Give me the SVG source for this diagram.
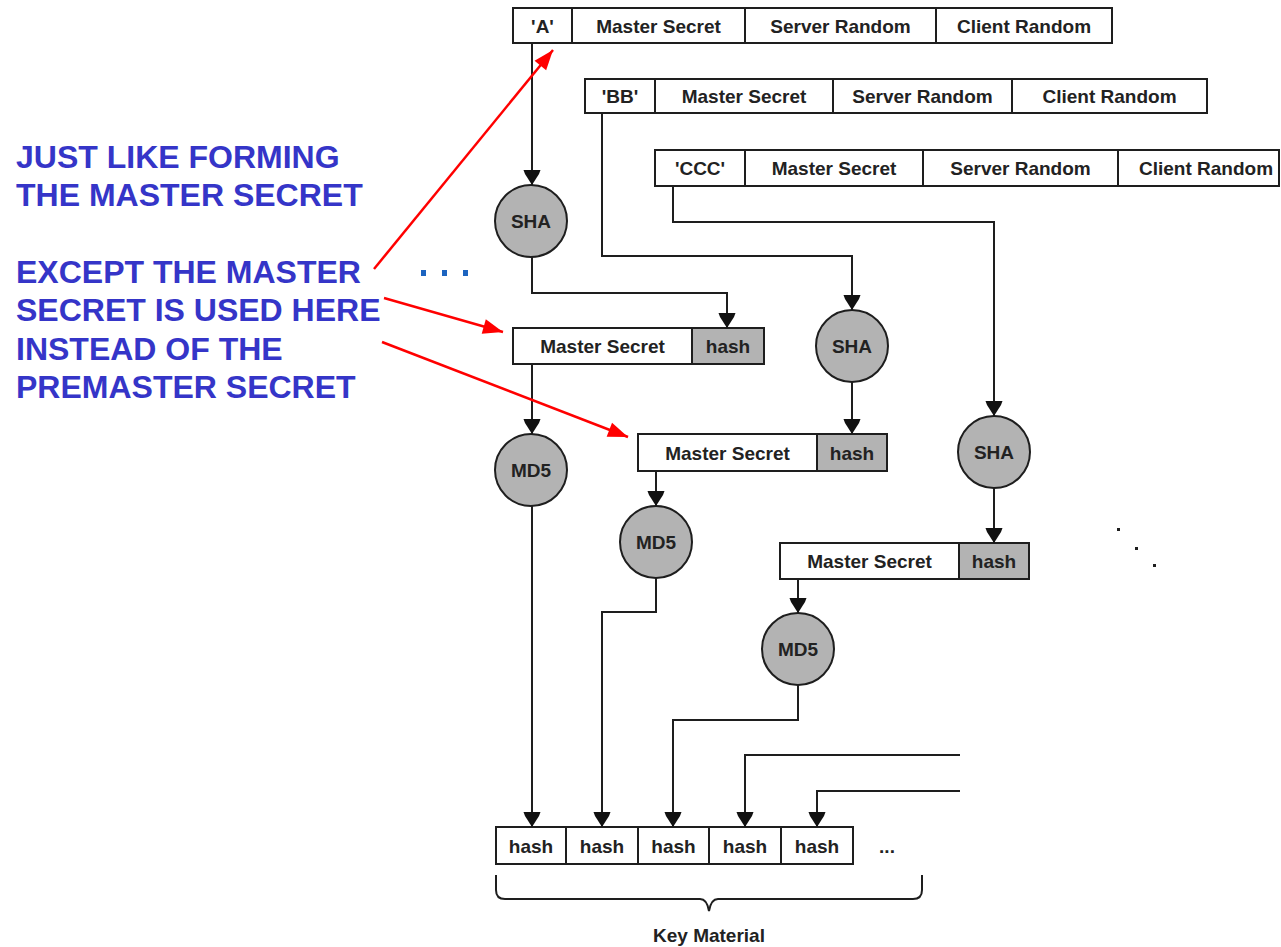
<svg xmlns="http://www.w3.org/2000/svg" width="1281" height="947" viewBox="0 0 1281 947">
  <style>
    .cell { fill: #ffffff; stroke: #1e1e1e; stroke-width: 2; }
    .gray { fill: #b3b3b3; stroke: #1e1e1e; stroke-width: 2; }
    .op { fill: #b3b3b3; stroke: #1e1e1e; stroke-width: 2; }
    .lbl { font-family: "Liberation Sans", Arial, sans-serif; font-weight: bold; font-size: 19px; fill: #222222; text-anchor: middle; }
    .note { font-family: "Liberation Sans", Arial, sans-serif; font-weight: bold; font-size: 32px; fill: #3535c8; }
    .wire { fill: none; stroke: #1e1e1e; stroke-width: 2; marker-end: url(#head); }
    .plain { fill: none; stroke: #1e1e1e; stroke-width: 2; }
    .pointer { fill: none; stroke: #ff0000; stroke-width: 2.5; marker-end: url(#redhead); }
  </style>
  <defs>
    <marker id="head" markerUnits="userSpaceOnUse" markerWidth="20" markerHeight="20" viewBox="-16 -10 20 20" refX="0" refY="0" orient="auto">
      <path d="M0,0 L-11,-7 L-15,-8.5 L-15,8.5 L-11,7 Z" fill="#111111"/>
    </marker>
    <marker id="redhead" markerUnits="userSpaceOnUse" markerWidth="26" markerHeight="26" viewBox="-22 -13 26 26" refX="0" refY="0" orient="auto">
      <path d="M0,0 L-20,-7.5 L-20,7.5 Z" fill="#ff0000"/>
    </marker>
  </defs>

  <rect width="1281" height="947" fill="#ffffff"/>

  <!-- annotation text -->
  <g id="note">
    <text class="note" x="16" y="168">JUST LIKE FORMING</text>
    <text class="note" x="16" y="206">THE MASTER SECRET</text>
    <text class="note" x="16" y="283">EXCEPT THE MASTER</text>
    <text class="note" x="16" y="321">SECRET IS USED HERE</text>
    <text class="note" x="16" y="360">INSTEAD OF THE</text>
    <text class="note" x="16" y="398">PREMASTER SECRET</text>
  </g>
  <g id="blue-dots" fill="#1c64c0">
    <rect x="421" y="270" width="5" height="6"/>
    <rect x="442" y="270" width="5" height="6"/>
    <rect x="463" y="270" width="5" height="6"/>
  </g>

  <!-- input rows -->
  <g id="row-a">
    <rect class="cell" x="513" y="8" width="59" height="35"/>
    <rect class="cell" x="572" y="8" width="173" height="35"/>
    <rect class="cell" x="745" y="8" width="191" height="35"/>
    <rect class="cell" x="936" y="8" width="176" height="35"/>
    <text class="lbl" x="542.5" y="32.5">'A'</text>
    <text class="lbl" x="658.5" y="32.5">Master Secret</text>
    <text class="lbl" x="840.5" y="32.5">Server Random</text>
    <text class="lbl" x="1024" y="32.5">Client Random</text>
  </g>
  <g id="row-bb">
    <rect class="cell" x="585" y="79" width="70" height="34"/>
    <rect class="cell" x="655" y="79" width="178" height="34"/>
    <rect class="cell" x="833" y="79" width="179" height="34"/>
    <rect class="cell" x="1012" y="79" width="195" height="34"/>
    <text class="lbl" x="620" y="103">'BB'</text>
    <text class="lbl" x="744" y="103">Master Secret</text>
    <text class="lbl" x="922.5" y="103">Server Random</text>
    <text class="lbl" x="1109.5" y="103">Client Random</text>
  </g>
  <g id="row-ccc">
    <rect class="cell" x="655" y="150" width="90" height="36"/>
    <rect class="cell" x="745" y="150" width="178" height="36"/>
    <rect class="cell" x="923" y="150" width="195" height="36"/>
    <rect class="cell" x="1118" y="150" width="161" height="36"/>
    <text class="lbl" x="700" y="175">'CCC'</text>
    <text class="lbl" x="834" y="175">Master Secret</text>
    <text class="lbl" x="1020.5" y="175">Server Random</text>
    <text class="lbl" x="1206" y="175">Client Random</text>
  </g>

  <!-- hash operations -->
  <g id="sha-1">
    <circle class="op" cx="531" cy="221" r="36"/>
    <text class="lbl" x="531" y="228">SHA</text>
  </g>
  <g id="sha-2">
    <circle class="op" cx="852" cy="346" r="36"/>
    <text class="lbl" x="852" y="353">SHA</text>
  </g>
  <g id="sha-3">
    <circle class="op" cx="994" cy="452" r="36"/>
    <text class="lbl" x="994" y="459">SHA</text>
  </g>

  <g id="ms-1">
    <rect class="cell" x="513" y="328" width="179" height="36"/>
    <rect class="gray" x="692" y="328" width="72" height="36"/>
    <text class="lbl" x="602.5" y="353">Master Secret</text>
    <text class="lbl" x="728" y="353">hash</text>
  </g>
  <g id="ms-2">
    <rect class="cell" x="638" y="434" width="179" height="37"/>
    <rect class="gray" x="817" y="434" width="70" height="37"/>
    <text class="lbl" x="727.5" y="459.5">Master Secret</text>
    <text class="lbl" x="852" y="459.5">hash</text>
  </g>
  <g id="ms-3">
    <rect class="cell" x="780" y="543" width="179" height="36"/>
    <rect class="gray" x="959" y="543" width="70" height="36"/>
    <text class="lbl" x="869.5" y="568">Master Secret</text>
    <text class="lbl" x="994" y="568">hash</text>
  </g>

  <g id="md5-1">
    <circle class="op" cx="531" cy="470" r="36"/>
    <text class="lbl" x="531" y="477">MD5</text>
  </g>
  <g id="md5-2">
    <circle class="op" cx="656" cy="542" r="36"/>
    <text class="lbl" x="656" y="549">MD5</text>
  </g>
  <g id="md5-3">
    <circle class="op" cx="798" cy="649" r="36"/>
    <text class="lbl" x="798" y="656">MD5</text>
  </g>

  <!-- key material output -->
  <g id="key-block">
    <rect class="cell" x="496" y="827" width="70" height="37"/>
    <rect class="cell" x="566" y="827" width="72" height="37"/>
    <rect class="cell" x="638" y="827" width="71" height="37"/>
    <rect class="cell" x="709" y="827" width="72" height="37"/>
    <rect class="cell" x="781" y="827" width="72" height="37"/>
    <text class="lbl" x="531" y="852.5">hash</text>
    <text class="lbl" x="602" y="852.5">hash</text>
    <text class="lbl" x="673.5" y="852.5">hash</text>
    <text class="lbl" x="745" y="852.5">hash</text>
    <text class="lbl" x="817" y="852.5">hash</text>
    <text class="lbl" x="887" y="852.5">...</text>
  </g>
  <g id="key-label">
    <path class="plain" d="M496,875 V890 Q496,899 505,899 H700 Q707,899 709,911 Q711,899 718,899 H913 Q922,899 922,890 V875"/>
    <text class="lbl" x="709" y="942">Key Material</text>
  </g>

  <g id="more-dots" fill="#1e1e1e">
    <rect x="1117" y="528" width="3" height="3"/>
    <rect x="1135" y="547" width="3" height="3"/>
    <rect x="1153" y="564" width="3" height="3"/>
  </g>

  <!-- connectors -->
  <g id="connectors">
    <path class="wire" d="M532,43 V185"/>
    <path class="wire" d="M532,257 V293 H727 V328"/>
    <path class="wire" d="M602,113 V256 H852 V310"/>
    <path class="wire" d="M852,382 V434"/>
    <path class="wire" d="M673,186 V222 H994 V416"/>
    <path class="wire" d="M994,488 V543"/>
    <path class="wire" d="M532,364 V434"/>
    <path class="wire" d="M656,471 V506"/>
    <path class="wire" d="M798,579 V613"/>
    <path class="wire" d="M532,506 V827"/>
    <path class="wire" d="M656,578 V612 H602 V827"/>
    <path class="wire" d="M798,685 V720 H673 V827"/>
    <path class="wire" d="M960,755 H745 V827"/>
    <path class="wire" d="M960,791 H817 V827"/>
    <path class="pointer" d="M374,269 L553,50"/>
    <path class="pointer" d="M384,298 L503,332"/>
    <path class="pointer" d="M382,342 L628,437"/>
  </g>
</svg>
